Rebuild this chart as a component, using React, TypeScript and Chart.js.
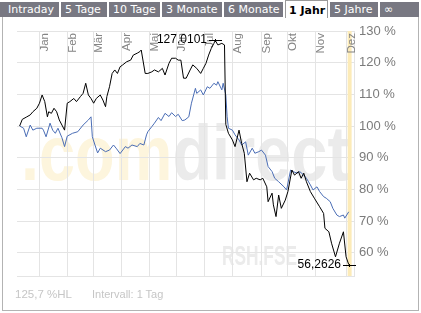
import React, { useEffect, useRef } from "react";
import { Chart, registerables } from "chart.js";

Chart.register(...registerables);

// ---- data ----
const monthLabels = ["Jan", "Feb", "Mär", "Apr", "Mai", "Jun", "Jul", "Aug", "Sep", "Okt", "Nov", "Dez"];
const monthDays = [15, 36, 56, 77, 98, 119, 140, 161, 183, 203, 224, 247.5];
const yTicks = [60, 70, 80, 90, 100, 110, 120, 130];

const stockDays = [
  0, 2, 5, 8, 10, 13, 15, 17, 19, 21, 22, 24, 26, 28, 30, 32, 34, 36, 38, 41, 43, 46, 48, 50, 52, 54, 56, 58,
  61, 63, 65, 66, 68, 70, 72, 74, 76, 78, 81, 84, 86, 89, 91, 92, 95, 97, 100, 102, 105, 108, 110, 113, 115,
  118, 120, 122, 124, 126, 129, 131, 134, 137, 139, 141, 143, 145, 147, 148, 150, 153, 155, 156, 158, 161,
  163, 166, 168, 170, 172, 174, 177, 179, 182, 184, 187, 188, 191, 192, 194, 196, 198, 201, 203, 206, 208,
  211, 213, 215, 217, 220, 223, 227, 230, 231, 234, 236, 239, 242, 245, 247, 249,
];
const stockValues = [
  100.0, 102.1, 102.8, 103.5, 104.5, 105.6, 107.2, 109.8, 107.7, 102.9, 104.5, 104.0, 105.6, 104.5, 101.9,
  100.3, 98.7, 107.2, 107.7, 108.7, 107.7, 109.3, 110.3, 113.5, 109.8, 108.7, 107.2, 108.7, 109.8, 108.2,
  106.1, 109.3, 112.4, 116.6, 117.7, 116.6, 118.7, 119.3, 120.3, 120.8, 122.4, 123.0, 123.5, 124.0, 116.6,
  116.6, 117.1, 117.7, 117.1, 118.2, 116.1, 119.8, 121.4, 121.4, 120.8, 120.8, 115.1, 115.1, 117.7, 119.3,
  118.2, 116.6, 118.2, 119.8, 122.4, 124.5, 126.1, 127.0101, 125.6, 126.1, 125.6, 100.5, 97.7, 95.6, 93.5,
  98.7, 94.5, 91.4, 82.4, 85.1, 83.0, 83.5, 83.0, 83.5, 80.8, 76.1, 78.8, 75.1, 71.4, 78.2, 74.0, 76.6, 79.3,
  86.1, 84.5, 85.6, 83.5, 85.1, 82.4, 79.3, 77.2, 74.5, 72.4, 67.7, 66.6, 63.0, 58.7, 63.0, 66.6, 58.7,
  56.2626,
];

const indexDays = [
  0, 3, 5, 8, 10, 13, 17, 18, 20, 23, 25, 27, 29, 32, 34, 36, 40, 44, 48, 52, 54, 55, 57, 59, 61, 65, 68, 71,
  73, 76, 80, 82, 85, 89, 91, 94, 96, 97, 100, 102, 105, 107, 110, 113, 115, 118, 120, 123, 125, 128, 130,
  133, 134, 137, 139, 142, 144, 147, 149, 150, 153, 154, 156, 157, 158, 161, 163, 166, 168, 171, 173, 176,
  178, 181, 183, 186, 188, 191, 193, 196, 200, 202, 205, 207, 210, 212, 215, 217, 220, 222, 225, 227, 230,
  232, 235, 237, 240, 242, 245, 246, 249,
];
const indexValues = [
  100.0, 99.3, 96.6, 100.3, 98.7, 99.3, 99.3, 98.7, 96.6, 100.9, 98.7, 97.7, 99.3, 96.3, 93.5, 96.8, 97.7,
  98.2, 100.3, 101.9, 102.9, 96.6, 94.0, 91.5, 93.0, 91.9, 92.4, 94.0, 93.0, 91.3, 93.5, 93.0, 94.0, 93.5,
  94.5, 94.0, 97.2, 98.2, 99.8, 100.9, 102.7, 101.7, 104.0, 103.0, 104.2, 103.0, 103.7, 101.7, 101.9, 102.9,
  107.2, 111.9, 110.3, 111.4, 109.8, 112.4, 111.9, 113.5, 112.9, 114.0, 111.4, 113.5, 109.8, 102.9, 99.3,
  98.7, 97.2, 95.6, 94.0, 95.0, 90.8, 93.0, 91.4, 91.9, 92.4, 90.8, 87.2, 85.6, 83.5, 82.4, 80.8, 79.8, 86.1,
  85.6, 85.1, 85.6, 84.5, 83.5, 81.4, 79.8, 80.8, 79.3, 77.7, 77.2, 76.1, 74.0, 71.9, 71.4, 71.9, 70.9, 72.9,
];

const currentMonthBand = [248.2, 251.2];
const xMin = -2;
const xMax = 253;
const yMin = 52.64;
const yMax = 130;

const tabs = [
  { label: "Intraday", left: 0, width: 59, pad: 8 },
  { label: "5 Tage", left: 61, width: 46, pad: 4 },
  { label: "10 Tage", left: 109, width: 51, pad: 4 },
  { label: "3 Monate", left: 162, width: 60, pad: 4 },
  { label: "6 Monate", left: 224, width: 59, pad: 4 },
  { label: "1 Jahr", left: 285, width: 43, pad: 4, active: true },
  { label: "5 Jahre", left: 330, width: 48, pad: 4 },
  { label: "∞", left: 380, width: 39, pad: 4 },
];

const FONT = "'Liberation Sans', Arial, sans-serif";

const fmt = (v: number) => v.toFixed(4).replace(".", ",");

const decorPlugin = {
  id: "decor",
  beforeDraw(chart: any) {
    const ctx = chart.ctx;
    // watermark .comdirect
    ctx.save();
    ctx.font = `bold 78px ${FONT}`;
    ctx.textBaseline = "alphabetic";
    ctx.textAlign = "left";
    const w1 = ctx.measureText(".com").width;
    const w2 = ctx.measureText("direct").width;
    const sx = 328 / (w1 + w2);
    ctx.translate(21, 180);
    ctx.scale(sx, 1);
    ctx.fillStyle = "#fdf5dd";
    ctx.fillText(".com", 0, 0);
    ctx.fillStyle = "#ebebeb";
    ctx.fillText("direct", w1, 0);
    ctx.restore();
    // watermark RSH.FSE
    ctx.save();
    ctx.font = `bold 27px ${FONT}`;
    const w3 = ctx.measureText("RSH.FSE").width;
    ctx.translate(222, 265);
    ctx.scale(75 / w3, 1);
    ctx.fillStyle = "#ebebeb";
    ctx.fillText("RSH.FSE", 0, 0);
    ctx.restore();
  },
  beforeDatasetsDraw(chart: any) {
    const ctx = chart.ctx;
    const xs = chart.scales.x;
    const area = chart.chartArea;
    ctx.save();
    // current month band
    const b0 = xs.getPixelForValue(currentMonthBand[0]);
    const b1 = xs.getPixelForValue(currentMonthBand[1]);
    ctx.fillStyle = "#fcebb8";
    ctx.fillRect(b0, area.top, b1 - b0, area.bottom - area.top);
    // month labels
    ctx.fillStyle = "#858585";
    ctx.font = `11.5px ${FONT}`;
    ctx.textAlign = "right";
    ctx.textBaseline = "alphabetic";
    monthLabels.forEach((m, i) => {
      const x = xs.getPixelForValue(monthDays[i]);
      ctx.save();
      ctx.translate(x + 8.5, area.top + 2);
      ctx.rotate(-Math.PI / 2);
      ctx.fillText(m, 0, 0);
      ctx.restore();
    });
    ctx.restore();
  },
  afterDatasetsDraw(chart: any) {
    const ctx = chart.ctx;
    const xs = chart.scales.x;
    const ys = chart.scales.y;
    let iMax = 0;
    let iMin = 0;
    stockValues.forEach((v, i) => {
      if (v > stockValues[iMax]) iMax = i;
      if (v < stockValues[iMin]) iMin = i;
    });
    ctx.save();
    ctx.strokeStyle = "#000";
    ctx.fillStyle = "#000";
    ctx.lineWidth = 1;
    ctx.font = `12px ${FONT}`;
    ctx.textAlign = "right";
    ctx.textBaseline = "middle";
    [iMax, iMin].forEach((i) => {
      const px = Math.round(xs.getPixelForValue(stockDays[i]));
      const py = Math.round(ys.getPixelForValue(stockValues[i]));
      ctx.beginPath();
      ctx.moveTo(px - 6, py + 0.5);
      ctx.lineTo(px + 7, py + 0.5);
      ctx.moveTo(px + 0.5, py - 1);
      ctx.lineTo(px + 0.5, py + 2);
      ctx.stroke();
      ctx.fillText(fmt(stockValues[i]), px - 8, py);
    });
    ctx.restore();
  },
};

export default function App() {
  const ref = useRef<HTMLCanvasElement>(null);

  useEffect(() => {
    if (!ref.current) return;
    const gridColor = "#e4e4e4";
    const chart = new Chart(ref.current, {
      type: "line",
      data: {
        datasets: [
          {
            label: "RSH",
            data: stockDays.map((d, i) => ({ x: d, y: stockValues[i] })),
            borderColor: "#000000",
            borderWidth: 1,
            pointRadius: 0,
            tension: 0,
            fill: false,
          },
          {
            label: "Index",
            data: indexDays.map((d, i) => ({ x: d, y: indexValues[i] })),
            borderColor: "#4a6db5",
            borderWidth: 1,
            pointRadius: 0,
            tension: 0,
            fill: false,
          },
        ],
      },
      options: {
        animation: false,
        responsive: false,
        devicePixelRatio: 1,
        layout: { padding: { left: 17, top: 31, right: 0, bottom: 37 } },
        plugins: { legend: { display: false }, tooltip: { enabled: false } },
        scales: {
          x: {
            type: "linear",
            min: xMin,
            max: xMax,
            afterBuildTicks: (s: any) => {
              s.ticks = monthDays.map((v) => ({ value: v }));
            },
            afterFit: (s: any) => {
              s.height = 0;
            },
            ticks: { display: false },
            grid: { color: gridColor, drawTicks: false },
            border: { display: true, color: gridColor },
          },
          y: {
            type: "linear",
            position: "right",
            min: yMin,
            max: yMax,
            afterBuildTicks: (s: any) => {
              s.ticks = yTicks.map((v) => ({ value: v }));
            },
            afterFit: (s: any) => {
              s.width = 67;
            },
            ticks: {
              callback: (v: any) => `${v} %`,
              color: "#7b7b7b",
              font: { family: FONT, size: 13 },
              padding: 5,
              autoSkip: false,
            },
            grid: { color: gridColor, drawTicks: false },
            border: { display: true, color: gridColor },
          },
        },
      },
      plugins: [decorPlugin],
    } as any);
    return () => chart.destroy();
  }, []);

  return (
    <div style={{ position: "absolute", left: 0, top: 0, width: 421, height: 313, background: "#fff", overflow: "hidden" }}>
      <div
        style={{
          position: "absolute",
          left: 2,
          top: 17,
          width: 417,
          height: 294,
          boxSizing: "border-box",
          borderLeft: "1px solid #b3b3b3",
          borderRight: "1px solid #b3b3b3",
          borderBottom: "1px solid #b3b3b3",
        }}
      />
      {tabs.map((t) => (
        <div
          key={t.label}
          style={{
            position: "absolute",
            left: t.left,
            top: t.active ? 0 : 2,
            width: t.width,
            height: t.active ? 18 : 15,
            boxSizing: "border-box",
            background: t.active ? "#ffffff" : "#787882",
            border: t.active ? "1px solid #9a9a9a" : "none",
            borderBottom: "none",
            color: t.active ? "#000" : "#fff",
            fontFamily: "'DejaVu Sans', Verdana, sans-serif",
            fontSize: 11,
            fontWeight: t.active ? "bold" : "normal",
            lineHeight: t.active ? "19px" : "15px",
            paddingLeft: t.active ? t.pad - 1 : t.pad,
            whiteSpace: "nowrap",
            overflow: "hidden",
          }}
        >
          {t.label}
        </div>
      ))}
      <canvas ref={ref} width={421} height={313} style={{ position: "absolute", left: 0, top: 0, width: 421, height: 313 }} />
      <div
        style={{
          position: "absolute",
          left: 15,
          top: 288,
          fontFamily: FONT,
          fontSize: 11.5,
          lineHeight: "12px",
          color: "#c6c6c6",
          whiteSpace: "nowrap",
        }}
      >
        125,7 %HL
      </div>
      <div
        style={{
          position: "absolute",
          left: 92,
          top: 288,
          fontFamily: FONT,
          fontSize: 11,
          lineHeight: "12px",
          color: "#c6c6c6",
          whiteSpace: "nowrap",
        }}
      >
        Intervall: 1 Tag
      </div>
    </div>
  );
}
